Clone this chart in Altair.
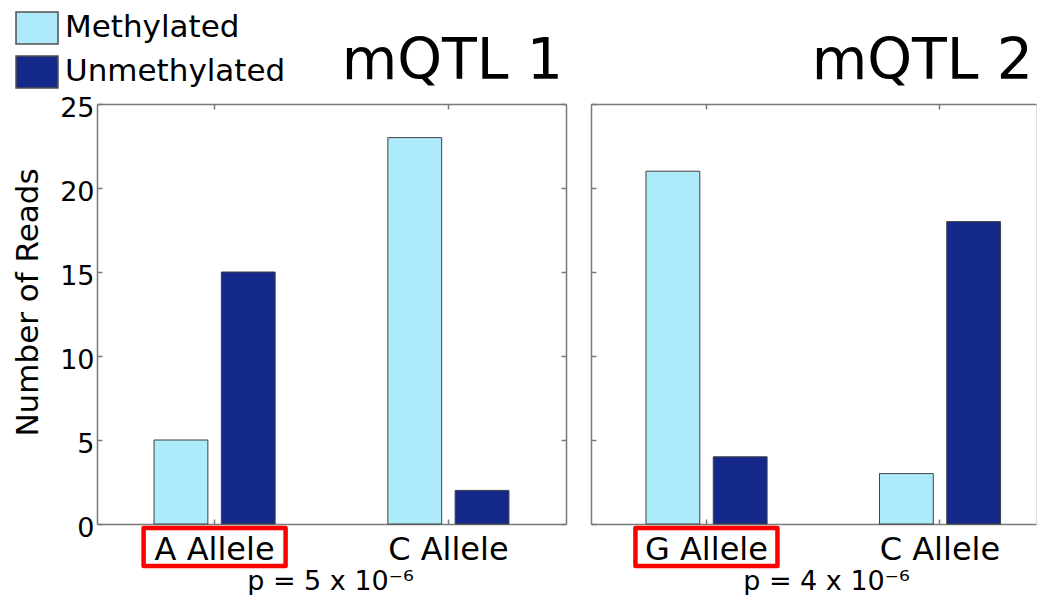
import altair as alt
import pandas as pd

FONT = "DejaVu Sans"
GRAY = "#7a7a7a"

# ---- data ----
statuses = ["Methylated", "Unmethylated"]
colors = ["#ADEBFA", "#15298A"]

alleles_1 = ["A Allele", "C Allele"]
meth_1 = [5, 23]
unmeth_1 = [15, 2]

alleles_2 = ["G Allele", "C Allele"]
meth_2 = [21, 3]
unmeth_2 = [4, 18]

highlight_1 = ["A Allele"]
highlight_2 = ["G Allele"]

panel_titles = ["mQTL 1", "mQTL 2"]
p_labels = ["p = 5 x 10\u207b\u2076", "p = 4 x 10\u207b\u2076"]
y_ticks = [0, 5, 10, 15, 20, 25]
y_title = "Number of Reads"

LEGEND_SHAPE = "M-1.3125,-1H1.3125V1H-1.3125Z"
BOX_SHAPE = "M-1,-0.2676H1V0.2676H-1Z"


def panel(alleles, meth, unmeth, highlight, title, ptext, width, xscale,
          first, title_x, ptitle_x):
    df = pd.DataFrame({
        "allele": alleles + alleles,
        "status": [statuses[0]] * len(alleles) + [statuses[1]] * len(alleles),
        "count": meth + unmeth,
    })
    base = alt.Chart(df)

    def xenc(axis):
        return alt.X("allele:N", sort=alleles, scale=xscale, axis=axis)

    def yenc(axis):
        return alt.Y("count:Q", scale=alt.Scale(domain=[0, 25], nice=False),
                     axis=axis)

    common = dict(grid=False, domainColor=GRAY, domainWidth=1.5,
                  tickColor=GRAY, tickWidth=1.5)

    x_main = alt.Axis(orient="bottom", title=ptext, labelAngle=0,
                      labelFontSize=32, labelFont=FONT, labelColor="black",
                      labelPadding=35, labelBaseline="alphabetic",
                      ticks=False, tickSize=0, domain=True,
                      titleFontSize=27, titleFont=FONT, titleFontWeight="normal",
                      titleColor="black", titleX=ptitle_x, titleY=65,
                      titleBaseline="alphabetic", titleAlign="center", **common)
    y_kwargs = dict(orient="left", values=y_ticks, labels=first,
                    labelFontSize=27, labelFont=FONT, labelColor="black",
                    labelPadding=3, labelOffset=4, ticks=False, tickSize=0,
                    domain=True, **common)
    if first:
        y_kwargs.update(title=y_title, titleFontSize=31, titleFont=FONT,
                        titleFontWeight="normal", titleColor="black",
                        titleX=-60, titleY=198, titleBaseline="alphabetic",
                        titleAlign="center")
    else:
        y_kwargs.update(title=None)
    y_main = alt.Axis(**y_kwargs)

    color = alt.Color(
        "status:N",
        scale=alt.Scale(domain=statuses, range=colors),
        legend=alt.Legend(orient="none", legendX=-77, legendY=-93, title=None,
                          labelFontSize=31, labelFont=FONT, labelColor="black",
                          labelLimit=500,
                          symbolType=LEGEND_SHAPE, symbolSize=1024,
                          symbolStrokeColor="#505050", symbolStrokeWidth=1.5,
                          labelOffset=11, rowPadding=6, padding=0,
                          direction="vertical") if first else None,
    )

    bars = base.mark_bar(stroke="#404040", strokeWidth=1).encode(
        x=xenc(x_main),
        xOffset=alt.XOffset("status:N", sort=statuses,
                            scale=alt.Scale(paddingInner=0.2, paddingOuter=0)),
        y=yenc(y_main),
        color=color,
    )

    # box outline (top / right domains)
    top_dom = alt.Axis(orient="top", labels=False, ticks=False, domain=True,
                       title=None, **common)
    right_dom = alt.Axis(orient="right", labels=False, ticks=False, domain=True,
                         title=None, values=y_ticks, **common) if first else None
    l2 = base.mark_bar(opacity=0).encode(x=xenc(top_dom), y=yenc(right_dom))

    # inward ticks (bottom / left)
    bt = alt.Axis(orient="bottom", offset=-5, tickSize=5, ticks=True,
                  labels=False, domain=False, title=None, **common)
    lt = alt.Axis(orient="left", offset=-5, tickSize=5, ticks=True,
                  labels=False, domain=False, title=None, values=y_ticks, **common)
    l3 = base.mark_bar(opacity=0).encode(x=xenc(bt), y=yenc(lt))

    # inward ticks (top / right)
    tt = alt.Axis(orient="top", offset=-5, tickSize=5, ticks=True,
                  labels=False, domain=False, title=None, **common)
    rt = alt.Axis(orient="right", offset=-5, tickSize=5, ticks=True,
                  labels=False, domain=False, title=None, values=y_ticks,
                  **common) if first else None
    l4 = base.mark_bar(opacity=0).encode(x=xenc(tt), y=yenc(rt))

    box = alt.Chart(pd.DataFrame({"allele": highlight})).mark_point(
        shape=BOX_SHAPE, size=20164, filled=False, stroke="#ff0000",
        strokeWidth=4.5, opacity=1, strokeJoin="round"
    ).encode(x=alt.X("allele:N", sort=alleles, scale=xscale, axis=None),
             y=alt.value(443))

    ttl = alt.Chart(pd.DataFrame({"t": [title]})).mark_text(
        align="right", baseline="alphabetic", fontSize=57, font=FONT,
        color="black"
    ).encode(text="t:N", x=alt.value(title_x), y=alt.value(-25))

    return alt.layer(bars, l2, l3, l4, box, ttl).resolve_axis(
        x="independent", y="independent"
    ).properties(width=width, height=420)


left = panel(alleles_1, meth_1, unmeth_1, highlight_1, panel_titles[0],
             p_labels[0], 469,
             alt.Scale(paddingInner=0.482, paddingOuter=0.244),
             True, 466, 233)
right = panel(alleles_2, meth_2, unmeth_2, highlight_2, panel_titles[1],
              p_labels[1], 445,
              alt.Scale(paddingInner=0.482, paddingOuter=0.194, align=0.607),
              False, 442, 235)

chart = alt.hconcat(left, right, spacing=21).resolve_scale(
    color="independent"
).properties(
    padding={"left": 3, "top": 2, "right": 0, "bottom": 0},
    background="white",
).configure_view(stroke=None).configure(font=FONT)

chart.save("out.html", embed_options={"renderer": "svg", "actions": False})
